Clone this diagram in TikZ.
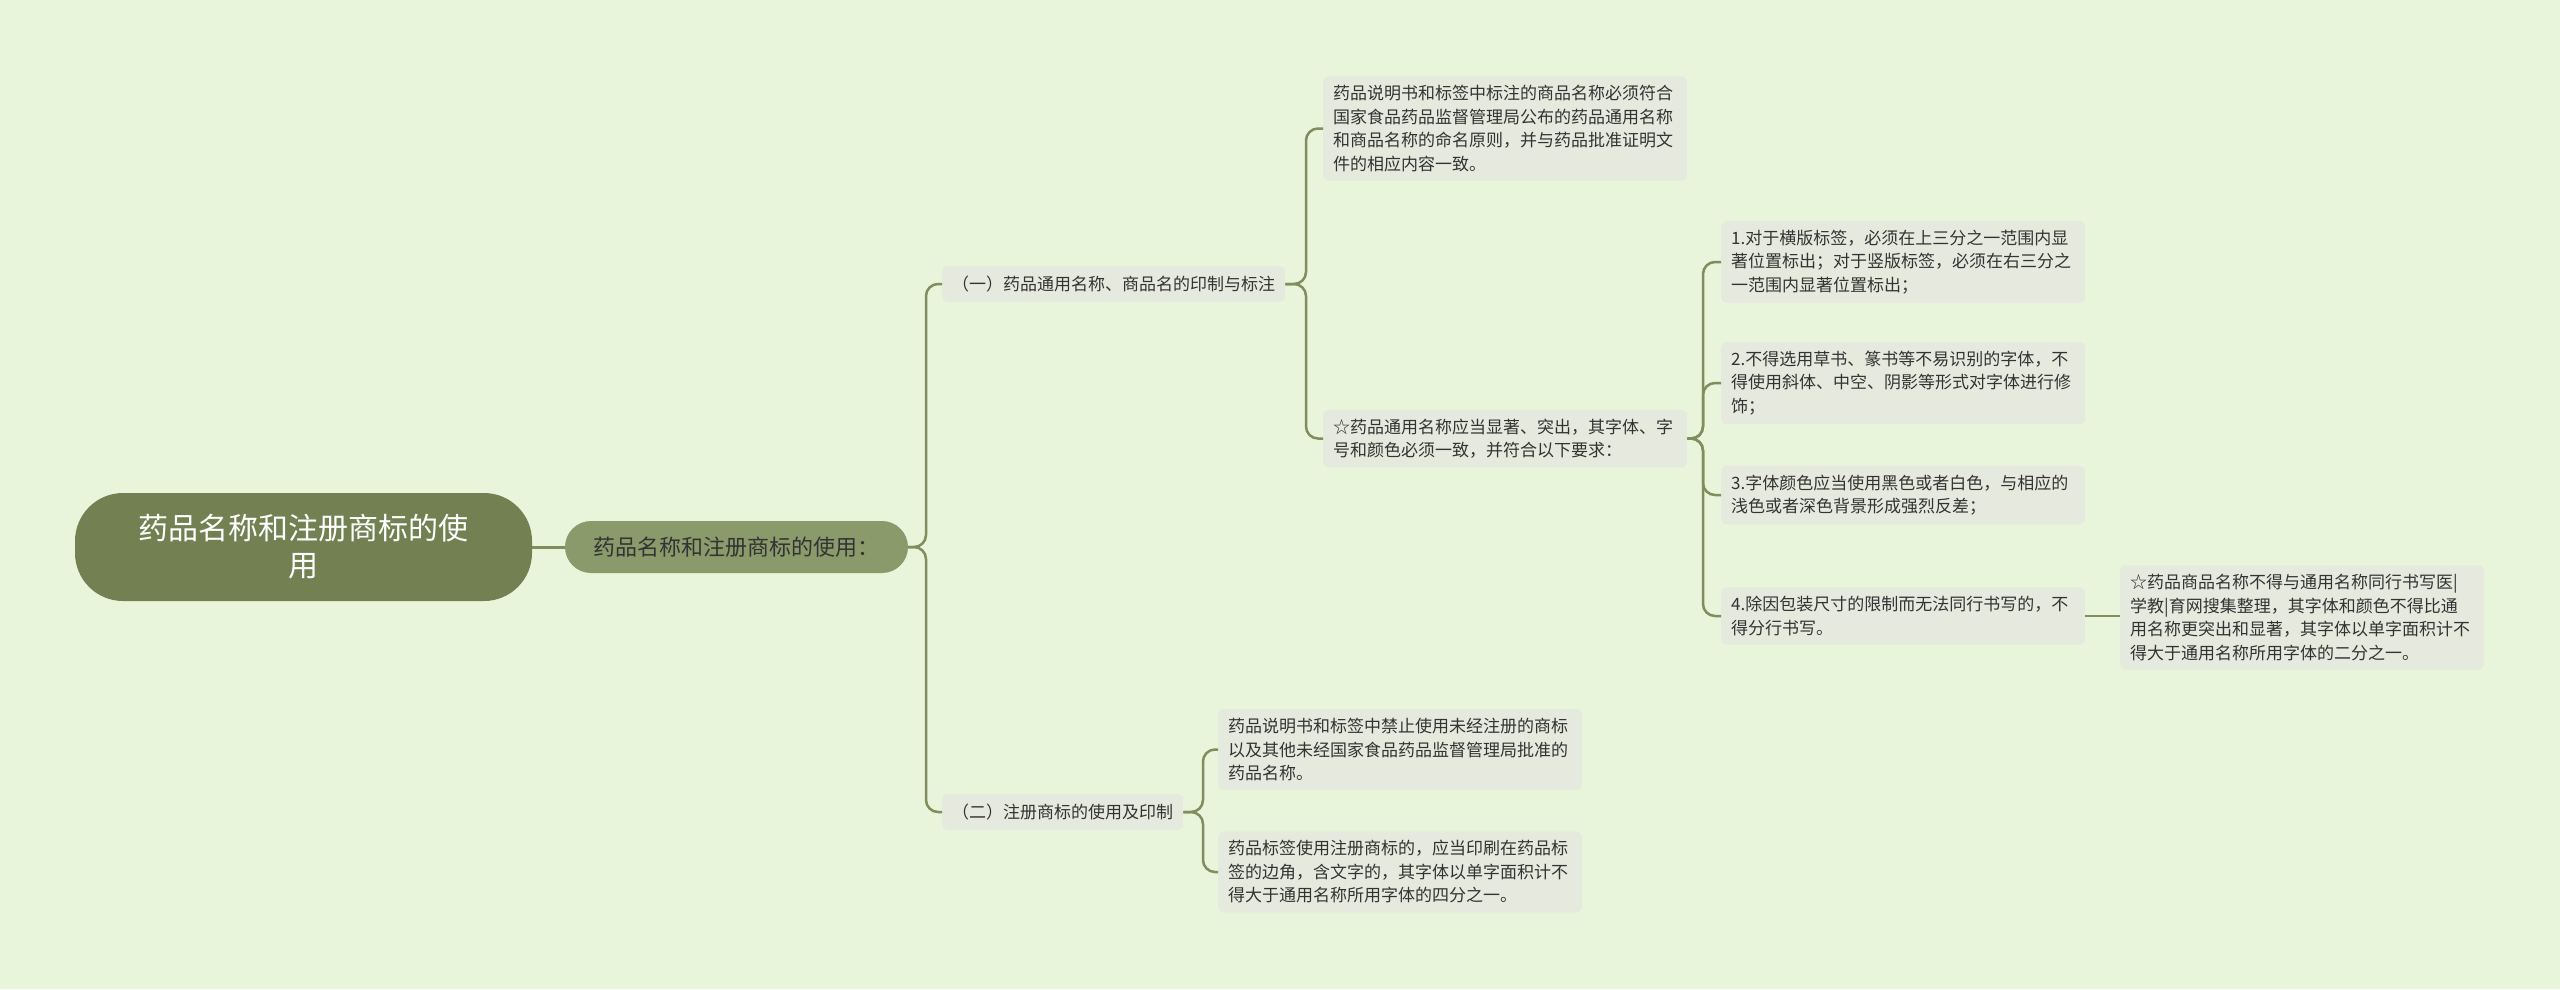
\documentclass[tikz,border=0pt]{standalone}
\usepackage{fontspec}
\setmainfont{Noto Sans CJK SC}
\usepackage{tikz}
\usetikzlibrary{calc}

\definecolor{bgc}{HTML}{E8F5DB}
\definecolor{rootc}{HTML}{738152}
\definecolor{topc}{HTML}{8A9A6B}
\definecolor{leafc}{HTML}{E5E9DE}
\definecolor{linkc}{HTML}{7F8D5F}
\definecolor{txtc}{HTML}{333333}

\begin{document}
\begin{tikzpicture}[x=1pt,y=-1pt,
        root/.style={rounded corners=48pt,fill=rootc,text=white,minimum width=457pt,minimum height=108pt,
          text width=340pt,align=center,font=\fontsize{30}{37}\selectfont},
        topic/.style={rounded corners=26pt,fill=topc,text=txtc,minimum width=343pt,minimum height=52pt,
          font=\fontsize{22}{28}\selectfont},
        branch/.style={rounded corners=6pt,fill=leafc,text=txtc,anchor=west,inner xsep=10pt,minimum height=36pt,
          font=\fontsize{17}{23.5}\selectfont},
        leaf/.style={rounded corners=6pt,fill=leafc,text=txtc,anchor=west,inner xsep=10pt,inner ysep=9pt,
          text width=344pt,align=left,font=\fontsize{17}{23.5}\selectfont},
        link/.style={draw=linkc,line width=2.5pt,rounded corners=12pt}]
        \fill[bgc] (0,0) rectangle (2560,989);
        \node[root]   (r)  at (303.5,547) {药品名称和注册商标的使\\用};
        \node[topic]  (t)  at (736.5,547) {药品名称和注册商标的使用：};
        \node[branch] (b1) at (942,284) {（一）药品通用名称、商品名的印制与标注};
        \node[branch] (b2) at (942,812) {（二）注册商标的使用及印制};
        \node[leaf]   (a)  at (1323,128.5) {药品说明书和标签中标注的商品名称必须符合\\国家食品药品监督管理局公布的药品通用名称\\和商品名称的命名原则，并与药品批准证明文\\件的相应内容一致。};
        \node[leaf]   (b)  at (1323,438.5) {☆药品通用名称应当显著、突出，其字体、字\\号和颜色必须一致，并符合以下要求：};
        \node[leaf]   (b1r) at (1721,262) {1.对于横版标签，必须在上三分之一范围内显\\著位置标出；对于竖版标签，必须在右三分之\\一范围内显著位置标出；};
        \node[leaf]   (b2r) at (1721,383) {2.不得选用草书、篆书等不易识别的字体，不\\得使用斜体、中空、阴影等形式对字体进行修\\饰；};
        \node[leaf]   (b3r) at (1721,495) {3.字体颜色应当使用黑色或者白色，与相应的\\浅色或者深色背景形成强烈反差；};
        \node[leaf]   (b4r) at (1721,616) {4.除因包装尺寸的限制而无法同行书写的，不\\得分行书写。};
        \node[leaf]   (c)  at (2120,617.5) {☆药品商品名称不得与通用名称同行书写医|\\学教|育网搜集整理，其字体和颜色不得比通\\用名称更突出和显著，其字体以单字面积计不\\得大于通用名称所用字体的二分之一。};
        \node[leaf]   (d1) at (1218,749.5) {药品说明书和标签中禁止使用未经注册的商标\\以及其他未经国家食品药品监督管理局批准的\\药品名称。};
        \node[leaf]   (d2) at (1218,872) {药品标签使用注册商标的，应当印刷在药品标\\签的边角，含文字的，其字体以单字面积计不\\得大于通用名称所用字体的四分之一。};
        \draw[link,line width=3pt] (r.east) -- (t.west);
        \foreach \n in {b1,b2}
          \draw[link] (t.east) -| ([xshift=-16pt]\n.west) -- (\n.west);
        \foreach \n in {a,b}
          \draw[link] (b1.east) -| ([xshift=-17pt]\n.west) -- (\n.west);
        \foreach \n in {b1r,b2r,b3r,b4r}
          \draw[link] (b.east) -| ([xshift=-18pt]\n.west) -- (\n.west);
        \foreach \n in {d1,d2}
          \draw[link] (b2.east) -| ([xshift=-15pt]\n.west) -- (\n.west);
        \draw[link] (b4r.east) -- (b4r.east -| c.west);
      \end{tikzpicture}
\end{document}
